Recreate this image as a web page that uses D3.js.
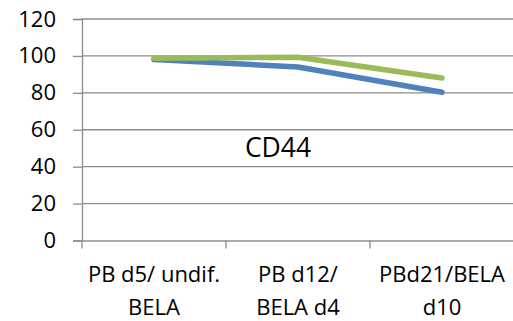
<!DOCTYPE html>
<html>
<head>
<meta charset="utf-8">
<script src="https://cdn.jsdelivr.net/npm/d3@7"></script>
<style>
  html, body { margin: 0; padding: 0; background: #fff; }
  svg { display: block; font-family: "Open Sans", sans-serif; }
</style>
</head>
<body>
<svg id="chart" width="513" height="321"></svg>
<script>
// Time points (two-line labels) and CD44 expression per series
const categories = ["PB d5/ undif.|BELA", "PB d12/|BELA d4", "PBd21/BELA|d10"];
const seriesBlue = [98, 94, 80.3];
const seriesGreen = [98.8, 99.3, 88];
const yTicks = [0, 20, 40, 60, 80, 100, 120];
const title = "CD44";

const svg = d3.select("#chart");
const plotLeft = 82, plotRight = 514, plotTop = 19, plotBottom = 240.5;

const x = d3.scaleBand().domain(categories).range([plotLeft, plotRight]).padding(0);
const y = d3.scaleLinear().domain([0, 120]).range([plotBottom, plotTop]);
const cx = d => x(d) + x.bandwidth() / 2;

const gridColor = "#8c8c8c";

// horizontal gridlines
svg.append("g").selectAll("line").data(yTicks.filter(t => t > 0)).join("line")
  .attr("x1", plotLeft).attr("x2", plotRight)
  .attr("y1", d => y(d)).attr("y2", d => y(d))
  .attr("stroke", gridColor).attr("stroke-width", 1.3);

// y axis
const yAxis = svg.append("g").attr("transform", `translate(${plotLeft},0)`)
  .call(d3.axisLeft(y).tickValues(yTicks).tickSize(9).tickPadding(17));
yAxis.select(".domain").attr("stroke", gridColor).attr("stroke-width", 1.3);
yAxis.selectAll(".tick line").attr("stroke", gridColor).attr("stroke-width", 1.3);
yAxis.selectAll(".tick text").attr("font-size", 22).attr("fill", "#000")
  .attr("font-family", "'Open Sans', sans-serif");

// x axis
const xAxis = svg.append("g").attr("transform", `translate(0,${plotBottom})`)
  .call(d3.axisBottom(x).tickSize(0).tickFormat(""));
xAxis.select(".domain").attr("stroke", gridColor).attr("stroke-width", 1.3);
// tick marks at category boundaries
const bounds = categories.map(d => x(d));
svg.append("g").selectAll("line").data(bounds).join("line")
  .attr("x1", d => d).attr("x2", d => d)
  .attr("y1", plotBottom).attr("y2", plotBottom + 8)
  .attr("stroke", gridColor).attr("stroke-width", 1.3);

// category labels (two lines each)
const labels = svg.append("g").attr("font-size", 22).attr("text-anchor", "middle").attr("fill", "#000");
categories.forEach(c => {
  const parts = c.split("|");
  labels.append("text").attr("x", cx(c)).attr("y", 281.5).text(parts[0]);
  labels.append("text").attr("x", cx(c)).attr("y", 315).text(parts[1]);
});

// series lines
const line = d3.line().x((d, i) => cx(categories[i])).y(d => y(d));
svg.append("path").datum(seriesBlue).attr("d", line)
  .attr("fill", "none").attr("stroke", "#4f81bd").attr("stroke-width", 5.5)
  .attr("stroke-linecap", "round").attr("stroke-linejoin", "round");
svg.append("path").datum(seriesGreen).attr("d", line)
  .attr("fill", "none").attr("stroke", "#9bbb59").attr("stroke-width", 5.5)
  .attr("stroke-linecap", "round").attr("stroke-linejoin", "round");

// chart title inside plot
svg.append("text").attr("x", 278).attr("y", 156.5).attr("text-anchor", "middle")
  .attr("font-size", 26.5).attr("fill", "#000").text(title);
</script>
</body>
</html>
